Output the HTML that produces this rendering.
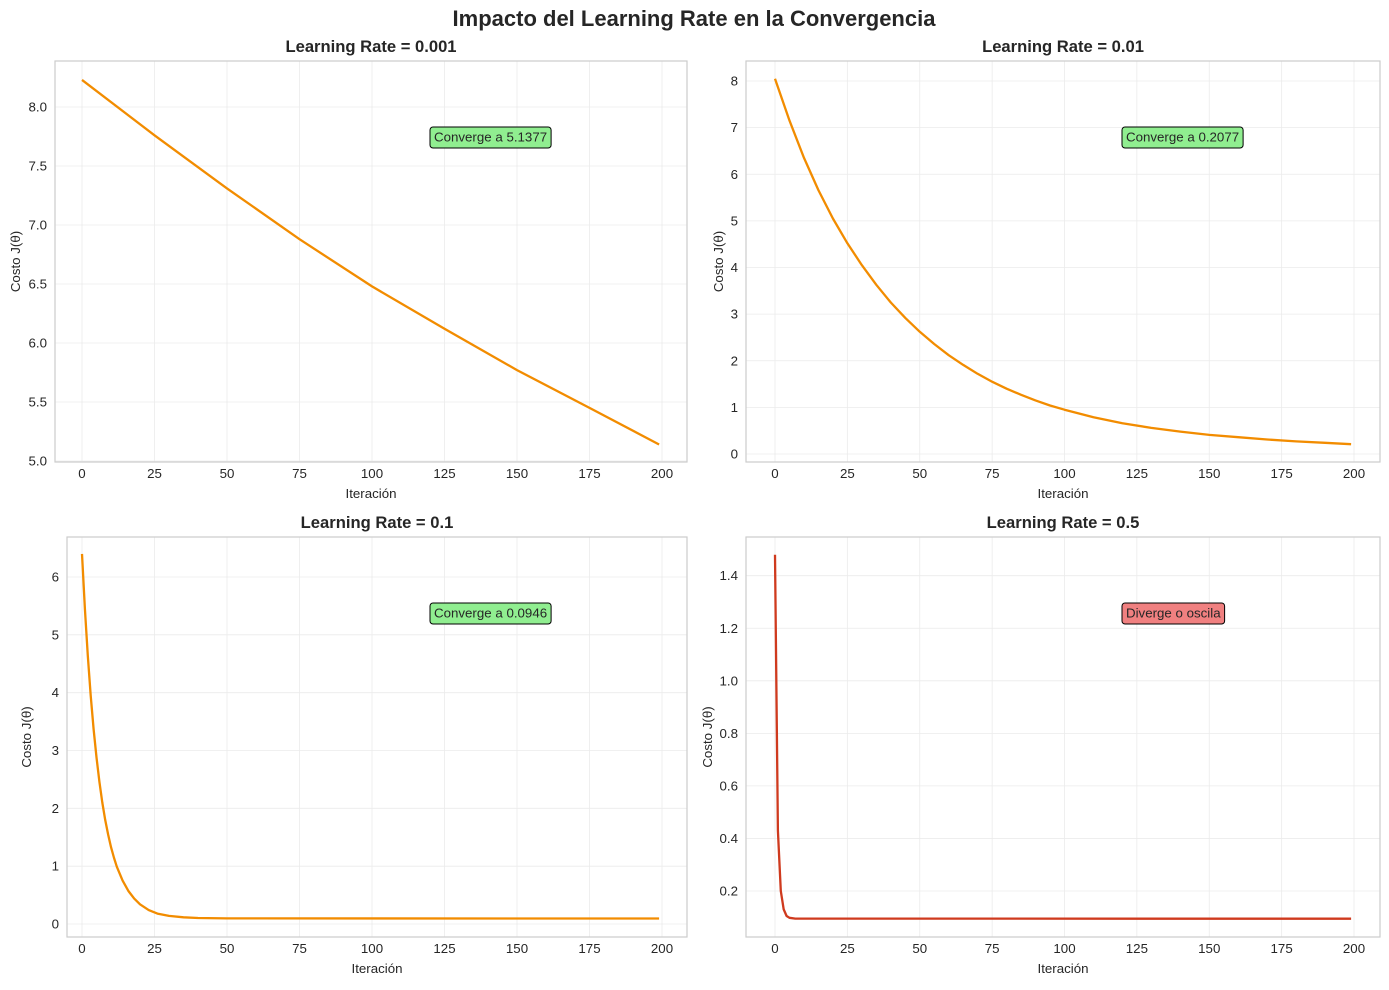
<!DOCTYPE html>
<html><head><meta charset="utf-8"><style>
body{margin:0;background:#fff;width:1389px;height:985px;overflow:hidden;font-family:"Liberation Sans",sans-serif}
svg text{font-family:"Liberation Sans",sans-serif}
</style></head><body>
<svg id="fig" width="1389" height="985" xmlns="http://www.w3.org/2000/svg">
<text x="694" y="26" text-anchor="middle" font-size="22" font-weight="bold" fill="#262626">Impacto del Learning Rate en la Convergencia</text>
</svg>
<script>
const iters1=[0,25,50,75,100,125,150,175,199];
const cost1=[8.23,7.76,7.31,6.88,6.48,6.12,5.77,5.45,5.14];
const iters2=[0,5,10,15,20,25,30,35,40,45,50,55,60,65,70,75,80,85,90,95,100,110,120,130,140,150,160,170,180,190,199];
const cost2=[8.05,7.15,6.35,5.66,5.05,4.52,4.05,3.63,3.25,2.92,2.62,2.36,2.12,1.91,1.72,1.55,1.40,1.27,1.15,1.04,0.95,0.79,0.66,0.56,0.48,0.41,0.36,0.31,0.27,0.24,0.21];
const iters3=[0,1,2,3,4,5,6,7,8,9,10,11,12,14,16,18,20,23,26,30,35,40,50,199];
const cost3=[6.4,5.45,4.64,3.95,3.37,2.88,2.46,2.1,1.8,1.55,1.33,1.15,0.99,0.75,0.57,0.44,0.34,0.24,0.18,0.14,0.115,0.104,0.097,0.0946];
const iters4=[0,1,2,3,4,5,7,199];
const cost4=[1.48,0.43,0.2,0.13,0.105,0.098,0.095,0.0946];
const xTicks=[0,25,50,75,100,125,150,175,200];
const yTicks1=[5.0,5.5,6.0,6.5,7.0,7.5,8.0];
const yTicks2=[0,1,2,3,4,5,6,7,8];
const yTicks3=[0,1,2,3,4,5,6];
const yTicks4=[0.2,0.4,0.6,0.8,1.0,1.2,1.4];
const titles=["Learning Rate = 0.001","Learning Rate = 0.01","Learning Rate = 0.1","Learning Rate = 0.5"];
const notes=["Converge a 5.1377","Converge a 0.2077","Converge a 0.0946","Diverge o oscila"];

const NS="http://www.w3.org/2000/svg";
const svg=document.getElementById('fig');
function mk(t,a,p){const e=document.createElementNS(NS,t);for(const k in a)e.setAttribute(k,a[k]);(p||svg).appendChild(e);return e;}
const FS=13.3;
const panels=[
 {L:55,R:687,T:61,B:462,x0:82,x1:662,yv0:5.0,yp0:461,yv1:8.0,yp1:107,xs:iters1,ys:cost1,yt:yTicks1,fmt:v=>v.toFixed(1),col:"#f28c00",nc:"#90ee90",ylx:20,nx:430},
 {L:746,R:1380,T:61,B:462,x0:775,x1:1354,yv0:0,yp0:454,yv1:8,yp1:81,xs:iters2,ys:cost2,yt:yTicks2,fmt:v=>v.toFixed(0),col:"#f28c00",nc:"#90ee90",ylx:723,nx:1122},
 {L:67,R:687,T:537,B:937,x0:82,x1:662,yv0:0,yp0:924,yv1:6,yp1:577,xs:iters3,ys:cost3,yt:yTicks3,fmt:v=>v.toFixed(0),col:"#f28c00",nc:"#90ee90",ylx:31,nx:430},
 {L:746,R:1380,T:537,B:937,x0:775,x1:1354,yv0:0.2,yp0:891,yv1:1.4,yp1:575.7,xs:iters4,ys:cost4,yt:yTicks4,fmt:v=>v.toFixed(1),col:"#cf3a1e",nc:"#f08080",ylx:712,nx:1122}
];
panels.forEach((p,i)=>{
 const g=mk('g',{});
 
 
 const X=v=>p.x0+(v-0)*(p.x1-p.x0)/200;
 const Y=v=>p.yp0+(v-p.yv0)*(p.yp1-p.yp0)/(p.yv1-p.yv0);
 xTicks.forEach(t=>{const x=X(t);
  mk('line',{x1:x,x2:x,y1:p.T,y2:p.B,stroke:"#ebebeb","stroke-width":0.8},g);
  const tx=mk('text',{x:x,y:p.B+16,"text-anchor":"middle","font-size":FS,fill:"#262626"},g);tx.textContent=t;
  
  });
 p.yt.forEach(t=>{const y=Y(t);
  mk('line',{x1:p.L,x2:p.R,y1:y,y2:y,stroke:"#ebebeb","stroke-width":0.8},g);
  const tx=mk('text',{x:p.L-8,y:y+4.5,"text-anchor":"end","font-size":FS,fill:"#262626"},g);tx.textContent=p.fmt(t);
  
  });
 mk('rect',{x:p.L,y:p.T,width:p.R-p.L,height:p.B-p.T,fill:"none",stroke:"#cccccc","stroke-width":1.2},g);
 const pts=p.xs.map((v,k)=>X(v).toFixed(1)+","+Y(p.ys[k]).toFixed(1)).join(" ");
 const line=mk('polyline',{points:pts,fill:"none",stroke:p.col,"stroke-width":2.3,"stroke-linejoin":"round"},g);
 
 
 const tt=mk('text',{x:(p.L+p.R)/2,y:p.T-9,"text-anchor":"middle","font-size":16.6,"font-weight":"bold",fill:"#262626"},g);tt.textContent=titles[i];
 
 
 const xl=mk('text',{x:(p.L+p.R)/2,y:p.B+36,"text-anchor":"middle","font-size":FS,fill:"#262626"},g);xl.textContent="Iteración";
 
 
 const yc=(p.T+p.B)/2;
 const yl=mk('text',{x:p.ylx,y:yc,"text-anchor":"middle","font-size":FS,fill:"#262626",transform:`rotate(-90 ${p.ylx} ${yc})`},g);yl.textContent="Costo J(θ)";
 
 
 const ny=p.T+76;
 const nt=mk('text',{x:p.nx+4,y:ny+4.5,"text-anchor":"start","font-size":13.3,fill:"#262626"},g);nt.textContent=notes[i];
 const w=nt.getComputedTextLength?nt.getComputedTextLength():118;
 const r=mk('rect',{x:p.nx,y:ny-10,width:w+8,height:21,rx:3,fill:p.nc,stroke:"#000","stroke-width":1},g);
 g.insertBefore(r,nt);
 
 
 
 
});
</script>
</body></html>
